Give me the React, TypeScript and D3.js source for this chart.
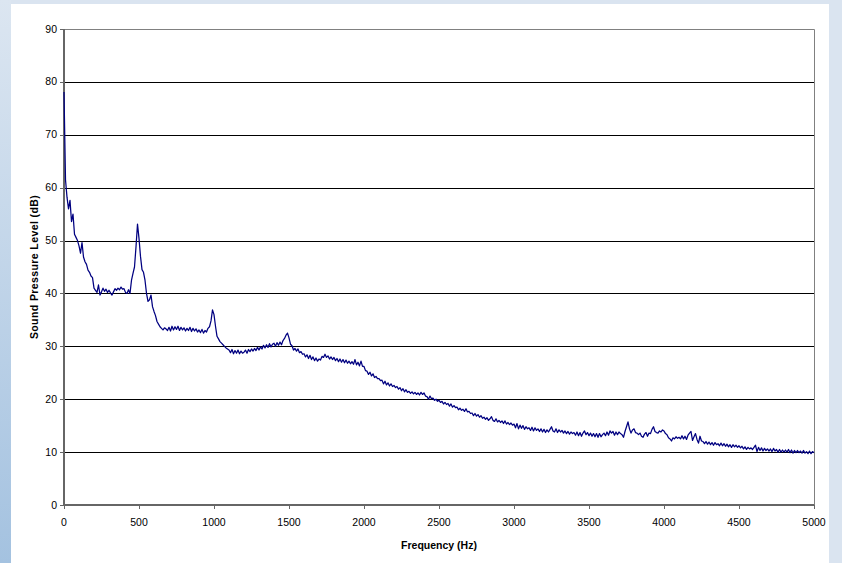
import React, { useRef, useEffect } from 'react';
import * as d3 from 'd3';

// spectrum sampled every 10 Hz, 0..5000 Hz
const FREQ_STEP = 10;
const spl = [
  78.1, 61.5, 58.2, 56.0, 57.6, 53.6, 55.0, 51.2, 50.6, 50.0,
  49.0, 47.6, 49.6, 46.9, 46.0, 45.5, 44.4, 44.0, 43.3, 43.0,
  41.0, 40.6, 40.2, 41.6, 39.7, 40.3, 41.0, 40.4, 40.8, 40.2,
  40.6, 40.1, 39.7, 40.3, 40.9, 40.6, 41.0, 40.7, 41.2, 40.8,
  40.9, 40.2, 40.0, 40.7, 40.0, 42.5, 43.8, 45.0, 48.8, 53.1,
  50.4, 47.0, 44.5, 44.0, 42.5, 40.0, 38.5, 38.8, 39.7, 37.5,
  36.6, 35.8, 34.7, 34.2, 33.7, 33.4, 33.1, 33.5, 33.3, 33.0,
  33.6, 32.9, 33.8, 33.1, 33.7, 33.2, 33.8, 33.0, 33.6, 33.1,
  33.5, 32.9, 33.4, 33.0, 33.6, 32.8, 33.4, 32.9, 33.3, 32.7,
  33.1, 32.6, 33.2, 32.5, 33.0, 32.7, 33.4, 33.7, 34.8, 36.9,
  36.0, 33.8, 31.9, 31.4, 30.9, 30.6, 30.3, 30.0, 29.7, 29.5,
  29.3, 28.8, 29.4, 28.6, 29.2, 28.7, 29.3, 28.6, 29.1, 28.7,
  28.9, 29.3, 28.7, 29.4, 29.0, 29.5, 29.1, 29.6, 29.2, 29.8,
  29.3, 29.9, 29.5, 30.2, 29.7, 30.3, 29.8, 30.5, 29.9, 30.4,
  30.6, 30.0, 30.7, 30.2, 30.8, 30.3, 31.1, 31.5, 32.1, 32.5,
  31.6, 30.4, 30.1, 29.3, 29.6, 29.1, 29.5, 28.8, 29.0, 28.5,
  28.6, 28.0, 28.4, 27.7, 28.3, 27.5, 28.0, 27.3, 27.8, 27.2,
  27.6, 27.4, 28.1, 27.9, 28.5, 27.9, 28.2, 27.6, 28.0, 27.5,
  27.9, 27.3, 27.7, 27.1, 27.6, 27.0, 27.5, 26.9, 27.4, 26.8,
  27.2, 26.7, 27.1, 26.6, 27.5, 26.5, 27.0, 26.3, 27.2, 26.2,
  26.2, 25.4, 25.3, 24.7, 25.1, 24.4, 24.8, 24.1, 24.3, 23.9,
  23.9, 23.5, 23.6, 22.9, 23.4, 22.7, 23.1, 22.5, 22.9, 22.4,
  22.6, 22.2, 22.4, 21.9, 22.2, 21.6, 22.0, 21.4, 21.8, 21.3,
  21.5, 21.1, 21.4, 21.0, 21.3, 20.9, 21.2, 20.8, 21.3, 20.9,
  21.2, 20.6, 20.5, 20.0, 20.6, 20.1, 20.2, 19.8, 20.0, 19.6,
  19.8, 19.4, 19.6, 19.1, 19.4, 19.0, 19.2, 18.7, 19.1, 18.5,
  18.8, 18.4, 18.5, 18.0, 18.3, 17.9, 18.1, 17.7, 18.2, 17.6,
  17.7, 17.3, 17.4, 16.9, 17.3, 16.8, 17.1, 16.6, 16.9, 16.4,
  16.6, 16.2, 16.5, 16.0, 16.3, 16.7, 16.0, 15.8, 16.3, 15.7,
  16.0, 15.6, 15.9, 15.4, 15.9, 15.3, 15.6, 15.2, 15.5, 15.1,
  15.3, 14.6, 15.4, 14.4, 15.1, 14.5, 15.0, 14.3, 14.8, 14.4,
  14.6, 14.1, 14.7, 14.0, 14.6, 14.1, 14.4, 13.9, 14.4, 13.8,
  14.3, 13.7, 14.2, 13.8, 14.3, 14.8, 14.0, 13.8, 14.4, 13.7,
  14.2, 13.8, 14.1, 13.6, 14.0, 13.5, 13.9, 13.4, 13.8, 13.5,
  13.7, 13.2, 13.8, 13.1, 13.7, 13.0, 13.6, 14.0, 13.3, 13.7,
  13.1, 13.6, 13.0, 13.5, 12.9, 13.5, 12.8, 13.5, 12.9, 13.3,
  13.6, 13.1, 13.8, 13.2, 14.0, 13.6, 13.9, 13.2, 13.8, 13.3,
  13.8, 13.5, 13.3, 12.8, 13.9, 14.8, 15.7, 14.4, 13.6, 14.2,
  14.4, 13.7, 13.6, 13.3, 13.6, 13.0, 12.8, 13.4, 13.7, 13.0,
  13.6, 13.5, 14.3, 14.8, 13.9, 13.7, 13.6, 14.0, 13.8, 14.2,
  14.0, 13.5, 13.3, 12.7, 12.5, 12.1, 12.7, 12.5, 12.9, 12.6,
  12.8, 12.5, 13.1, 12.5, 13.0, 12.4, 13.2, 13.6, 13.9, 12.2,
  12.9, 13.5, 12.4, 11.7, 13.0, 12.1, 12.0, 11.6, 12.0, 11.5,
  11.9, 11.4, 11.8, 11.3, 11.8, 11.4, 11.6, 11.2, 11.7, 11.2,
  11.6, 11.1, 11.5, 11.0, 11.4, 10.9, 11.4, 11.0, 11.3, 10.9,
  11.2, 10.8, 11.1, 10.6, 11.0, 10.5, 10.9, 10.6, 10.8, 10.5,
  10.9, 11.3, 10.1, 10.9, 10.3, 10.8, 10.2, 10.7, 10.3, 10.6,
  10.2, 10.6, 10.1, 10.7, 10.2, 10.5, 10.0, 10.5, 10.0, 10.4,
  10.0, 10.4, 10.0, 10.5, 9.9, 10.4, 9.8, 10.3, 9.9, 10.3,
  9.9, 10.2, 9.8, 10.3, 9.8, 10.1, 9.7, 10.2, 9.7, 10.1,
  9.9,
];

const yTicks = [0, 10, 20, 30, 40, 50, 60, 70, 80, 90];
const xTicks = [0, 500, 1000, 1500, 2000, 2500, 3000, 3500, 4000, 4500, 5000];

const W = 842;
const H = 563;
const FONT = '"Liberation Sans", Arial, sans-serif';

const App = () => {
  const ref = useRef(null);

  useEffect(() => {
    const svg = d3.select(ref.current);
    svg.selectAll('*').remove();

    // slide-like background
    const defs = svg.append('defs');
    const grad = defs.append('linearGradient')
      .attr('id', 'bg').attr('x1', 0).attr('y1', 0).attr('x2', 0).attr('y2', 1);
    grad.append('stop').attr('offset', '0%').attr('stop-color', '#dce6f1');
    grad.append('stop').attr('offset', '100%').attr('stop-color', '#a4c2e0');

    svg.append('rect').attr('width', W).attr('height', H).attr('fill', '#dae4f0');
    svg.append('rect').attr('width', 11).attr('height', H).attr('fill', 'url(#bg)');
    svg.append('rect').attr('x', 11).attr('y', 4).attr('width', 818).attr('height', H - 4).attr('fill', '#ffffff');

    const x = d3.scaleLinear().domain([0, 5000]).range([64, 814]);
    const y = d3.scaleLinear().domain([0, 90]).range([505, 29]);

    // gridlines
    svg.append('g')
      .selectAll('line')
      .data(yTicks.filter((d) => d > 0 && d < 90))
      .join('line')
      .attr('x1', x(0)).attr('x2', x(5000))
      .attr('y1', (d) => Math.round(y(d)) + 0.5)
      .attr('y2', (d) => Math.round(y(d)) + 0.5)
      .attr('stroke', '#000').attr('stroke-width', 1);

    // top and right border
    svg.append('path')
      .attr('d', `M${x(0)},${Math.round(y(90)) + 0.5}H${x(5000) + 0.5}V${y(0)}`)
      .attr('fill', 'none').attr('stroke', '#808080').attr('stroke-width', 1);

    // y axis
    const yAxis = svg.append('g');
    yAxis.append('line')
      .attr('x1', x(0)).attr('x2', x(0)).attr('y1', y(90)).attr('y2', y(0) + 1)
      .attr('stroke', '#666').attr('stroke-width', 2);
    yAxis.selectAll('line.tick')
      .data(yTicks)
      .join('line')
      .attr('class', 'tick')
      .attr('x1', x(0) - 4).attr('x2', x(0))
      .attr('y1', (d) => Math.round(y(d)) + 0.5)
      .attr('y2', (d) => Math.round(y(d)) + 0.5)
      .attr('stroke', '#666').attr('stroke-width', 1);
    yAxis.selectAll('text')
      .data(yTicks)
      .join('text')
      .attr('x', x(0) - 7)
      .attr('y', (d) => y(d) + 3.5)
      .attr('text-anchor', 'end')
      .attr('font-family', FONT).attr('font-size', 10.5).attr('fill', '#000')
      .text((d) => d);

    // x axis
    const xAxis = svg.append('g');
    xAxis.append('line')
      .attr('x1', x(0) - 1).attr('x2', x(5000)).attr('y1', y(0)).attr('y2', y(0))
      .attr('stroke', '#666').attr('stroke-width', 2);
    xAxis.selectAll('line.tick')
      .data(xTicks)
      .join('line')
      .attr('class', 'tick')
      .attr('x1', (d) => Math.round(x(d)) + 0.5)
      .attr('x2', (d) => Math.round(x(d)) + 0.5)
      .attr('y1', y(0)).attr('y2', y(0) + 4)
      .attr('stroke', '#666').attr('stroke-width', 1);
    xAxis.selectAll('text')
      .data(xTicks)
      .join('text')
      .attr('x', (d) => x(d))
      .attr('y', y(0) + 21)
      .attr('text-anchor', 'middle')
      .attr('font-family', FONT).attr('font-size', 10.5).attr('fill', '#000')
      .text((d) => d);

    // titles
    svg.append('text')
      .attr('transform', `translate(38,${(y(0) + y(90)) / 2}) rotate(-90)`)
      .attr('text-anchor', 'middle')
      .attr('font-family', FONT).attr('font-size', 10.5).attr('font-weight', 'bold')
      .attr('letter-spacing', 0.4)
      .text('Sound Pressure Level (dB)');
    svg.append('text')
      .attr('x', (x(0) + x(5000)) / 2)
      .attr('y', 549)
      .attr('text-anchor', 'middle')
      .attr('font-family', FONT).attr('font-size', 10.5).attr('font-weight', 'bold')
      .text('Frequency (Hz)');

    // spectrum line
    const line = d3.line()
      .x((d, i) => x(i * FREQ_STEP))
      .y((d) => y(d));
    svg.append('path')
      .datum(spl)
      .attr('d', line)
      .attr('fill', 'none')
      .attr('stroke', '#000080')
      .attr('stroke-width', 1.25)
      .attr('stroke-linejoin', 'round');
  }, []);

  return (
    <svg
      ref={ref}
      width={W}
      height={H}
      style={{ position: 'absolute', left: 0, top: 0, display: 'block' }}
    />
  );
};

export default App;
